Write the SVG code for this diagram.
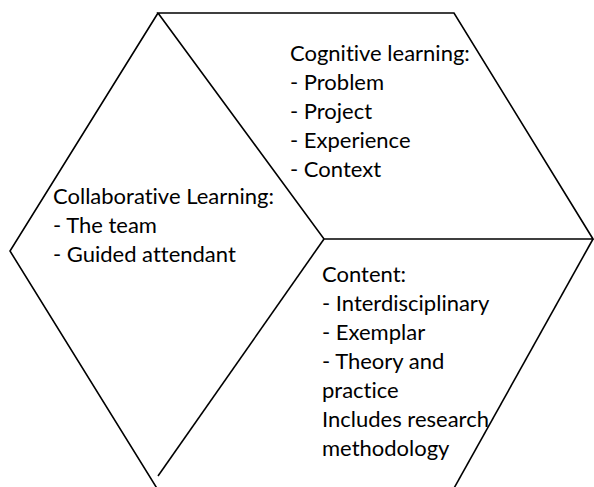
<svg xmlns="http://www.w3.org/2000/svg" width="594" height="487" viewBox="0 0 594 487">
<style>
.edge{fill:none;stroke:#000;stroke-width:1.6;stroke-linejoin:miter}
.t{font-family:Lato,"Liberation Sans",sans-serif;font-size:22px;fill:#000;font-variant-ligatures:none;font-feature-settings:"liga" 0}
</style>
<rect width="594" height="487" fill="#fff"/>
<g id="cognitive">
<polygon class="edge" points="158,13 454,13 593,239 324,239"/>
<text class="t" x="290" y="61">Cognitive learning:</text>
<text class="t" x="290" y="90">- Problem</text>
<text class="t" x="290" y="119">- Project</text>
<text class="t" x="290" y="148">- Experience</text>
<text class="t" x="290" y="177">- Context</text>
</g>
<g id="collaborative">
<polyline class="edge" points="158,13 10,251 158,490"/>
<polyline class="edge" points="324,239 158,476"/>
<text class="t" x="53" y="204">Collaborative Learning:</text>
<text class="t" x="53" y="233">- The team</text>
<text class="t" x="53" y="262">- Guided attendant</text>
</g>
<g id="content">
<polyline class="edge" points="593,239 453,490"/>
<text class="t" x="322" y="282">Content:</text>
<text class="t" x="322" y="311">- Interdisciplinary</text>
<text class="t" x="322" y="340">- Exemplar</text>
<text class="t" x="322" y="369">- Theory and</text>
<text class="t" x="322" y="398">practice</text>
<text class="t" x="322" y="427">Includes research</text>
<text class="t" x="322" y="456">methodology</text>
</g>
</svg>
